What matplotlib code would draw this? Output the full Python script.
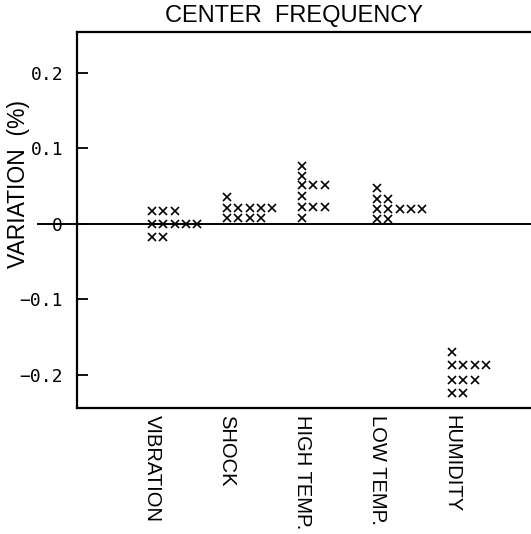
import matplotlib
matplotlib.use("Agg")
import matplotlib.pyplot as plt

categories = ["VIBRATION", "SHOCK", "HIGH TEMP.", "LOW TEMP.", "HUMIDITY"]

# each category: list of stacked columns, each column lists the y values of its x marks
vibration = [[0.017, 0.0, -0.018], [0.017, 0.0, -0.018], [0.017, 0.0], [0.0], [0.0]]
shock = [[0.035, 0.021, 0.0075], [0.021, 0.0075], [0.021, 0.0075], [0.021, 0.0075], [0.021]]
high_temp = [[0.077, 0.064, 0.052, 0.037, 0.022, 0.0075], [0.052, 0.022], [0.052, 0.022]]
low_temp = [[0.047, 0.033, 0.020, 0.0066], [0.033, 0.020, 0.0066], [0.020], [0.020], [0.020]]
humidity = [[-0.170, -0.187, -0.207, -0.224], [-0.187, -0.207, -0.224], [-0.187, -0.207], [-0.187]]

groups = [vibration, shock, high_temp, low_temp, humidity]

yticks = [0.2, 0.1, 0.0, -0.1, -0.2]
ytick_labels = ["0.2", "0.1", "0", "\u22120.1", "\u22120.2"]

W, H = 531, 534
fig = plt.figure(figsize=(W / 100, H / 100), dpi=100)
ax = fig.add_axes([77 / W, 1 - 408 / H, (W - 77) / W, (408 - 32) / H])

col_step = 0.15
for i, cols in enumerate(groups):
    for j, col in enumerate(cols):
        xs = [i + 1 + j * col_step] * len(col)
        ax.plot(xs, col, linestyle="none", marker="x", color="black",
                markersize=5.5, markeredgewidth=1.2)

ax.set_xlim(0, 6.05)
ax.set_ylim(-0.2437, 0.254)

ax.plot([-0.085, 1.0], [0, 0], transform=ax.get_yaxis_transform(),
        color="black", linewidth=1.4, clip_on=False)

ax.spines["right"].set_visible(False)
for s in ["left", "top", "bottom"]:
    ax.spines[s].set_linewidth(1.6)

ax.set_yticks(yticks)
ax.set_yticklabels(ytick_labels, fontfamily="DejaVu Sans Mono", fontsize=13)
ax.tick_params(axis="y", direction="in", length=8, width=1.3, pad=10)

ax.set_xticks(range(1, len(categories) + 1))
ax.set_xticklabels(categories, rotation=270, fontfamily="Liberation Sans",
                   fontsize=14.5, va="top", ha="center")
ax.tick_params(axis="x", length=0, pad=5)

fig.text(294 / W, 1 - 16 / H, "CENTER  FREQUENCY", ha="center", va="center",
         fontfamily="Liberation Sans", fontsize=17)
fig.text(19 / W, 1 - 184 / H, "VARIATION  (%)", rotation=90, ha="center",
         va="center", fontfamily="Liberation Sans", fontsize=16.5)

fig.savefig("out.png", dpi=100)
